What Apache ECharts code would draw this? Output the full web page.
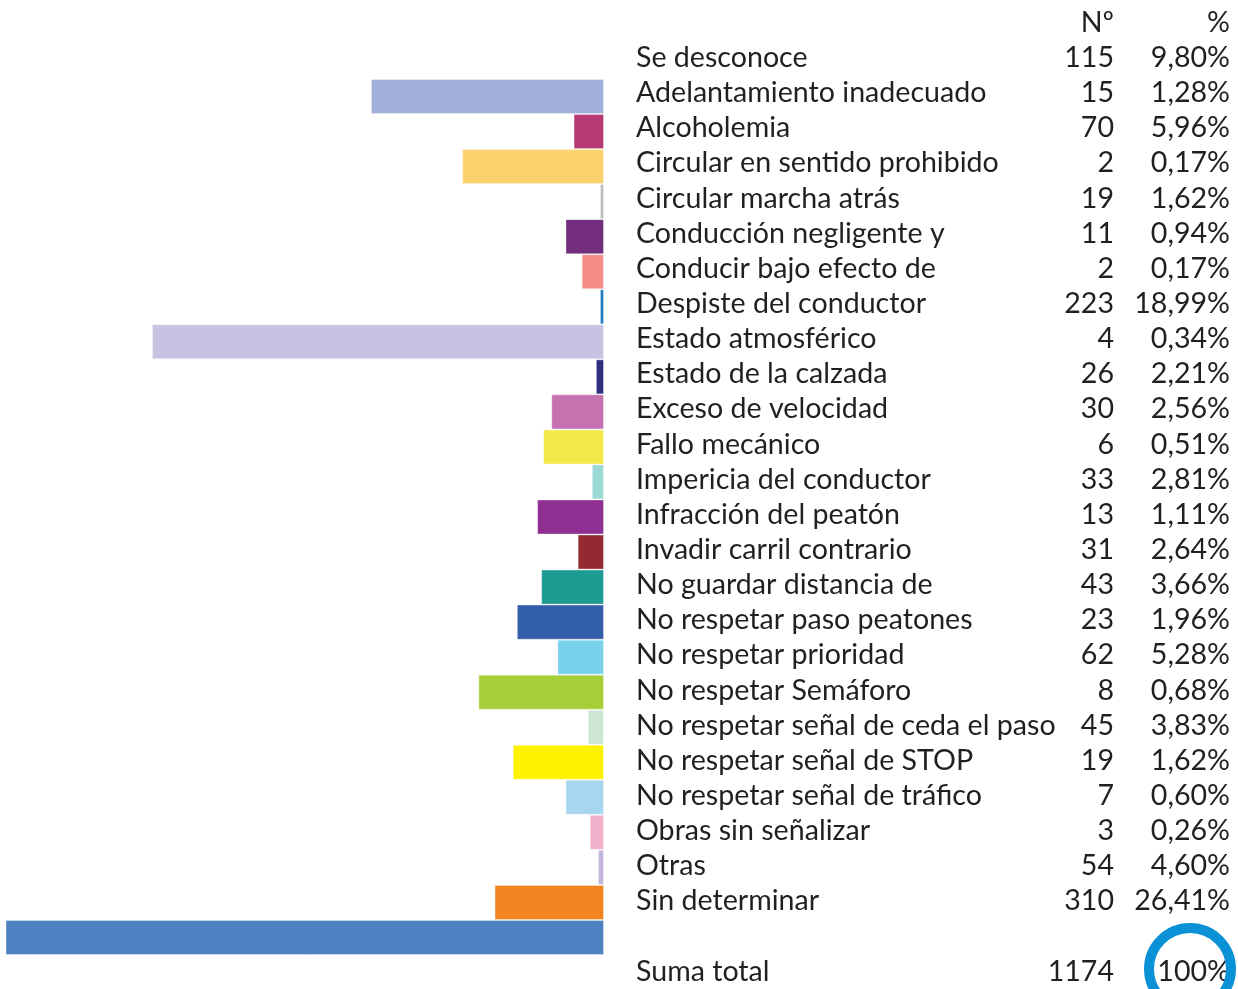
<!DOCTYPE html>
<html>
<head>
<meta charset="utf-8">
<script src="https://cdn.jsdelivr.net/npm/echarts@6/dist/echarts.min.js"></script>
<style>
  html, body { margin: 0; padding: 0; background: #fff; }
  #chart { width: 1238px; height: 989px; }
</style>
</head>
<body>
<div id="chart"></div>
<script>
// causas y valores
var causes = ['Se desconoce', 'Adelantamiento inadecuado', 'Alcoholemia', 'Circular en sentido prohibido',
  'Circular marcha atrás', 'Conducción negligente y', 'Conducir bajo efecto de', 'Despiste del conductor',
  'Estado atmosférico', 'Estado de la calzada', 'Exceso de velocidad', 'Fallo mecánico',
  'Impericia del conductor', 'Infracción del peatón', 'Invadir carril contrario', 'No guardar distancia de',
  'No respetar paso peatones', 'No respetar prioridad', 'No respetar Semáforo',
  'No respetar señal de ceda el paso', 'No respetar señal de STOP', 'No respetar señal de tráfico',
  'Obras sin señalizar', 'Otras', 'Sin determinar'];
var counts = [115, 15, 70, 2, 19, 11, 2, 223, 4, 26, 30, 6, 33, 13, 31, 43, 23, 62, 8, 45, 19, 7, 3, 54, 310];
var pcts = ['9,80%', '1,28%', '5,96%', '0,17%', '1,62%', '0,94%', '0,17%', '18,99%', '0,34%', '2,21%',
  '2,56%', '0,51%', '2,81%', '1,11%', '2,64%', '3,66%', '1,96%', '5,28%', '0,68%', '3,83%',
  '1,62%', '0,60%', '0,26%', '4,60%', '26,41%'];
var totalLabel = 'Suma total';
var totalCount = '1174';
var totalPct = '100%';
var headers = ['Nº', '%'];

var colors = ['#A1B0D9', '#B83873', '#FDD26E', '#BDBDBD', '#722D7C', '#F38B86', '#1F7CC1', '#C7C3E2',
  '#2B2F7F', '#C572B1', '#F3EA4A', '#9CD8D6', '#8E2F91', '#932A33', '#1D9A91', '#335EA9',
  '#79D2EC', '#A6CE39', '#CDE6D4', '#FFF200', '#A8D5EF', '#EEB1C9', '#C4B6DB', '#F38422', '#4E81C2'];

var textColor = '#231F20';
var fontFamily = 'Lato';
var fontSize = 28.6;

// filas de la tabla: cabecera, causas, hueco, total
var rows = [{ n: '', c: headers[0], p: headers[1] }];
for (var i = 0; i < causes.length; i++) {
  rows.push({ n: causes[i], c: String(counts[i]), p: pcts[i] });
}
rows.push({ n: '', c: '', p: '' });
rows.push({ n: totalLabel, c: totalCount, p: totalPct });

var barData = counts.map(function (v, i) {
  return { value: v, itemStyle: { color: colors[i], borderColor: 'rgba(255,255,255,0.35)', borderWidth: 1 } };
});

var myChart = echarts.init(document.getElementById('chart'));
var option = {
  backgroundColor: '#fff',
  animation: false,
  grid: [
    { left: 6, top: 79, width: 598, height: 876 },
    { left: 636, top: 5, width: 600, height: 985.6 }
  ],
  xAxis: [
    { gridIndex: 0, type: 'value', inverse: true, min: 0, max: 295, show: false },
    { gridIndex: 1, type: 'value', show: false }
  ],
  yAxis: [
    { gridIndex: 0, type: 'category', inverse: true, data: causes, show: false },
    {
      gridIndex: 1,
      type: 'category',
      inverse: true,
      data: rows.map(function (r, i) { return String(i); }),
      axisLine: { show: false },
      axisTick: { show: false },
      splitLine: { show: false },
      axisLabel: {
        inside: true,
        margin: 0,
        interval: 0,
        formatter: function (val) {
          var r = rows[+val];
          return '{n|' + r.n + '}{c|' + r.c + '}{p|' + r.p + '}';
        },
        rich: {
          n: { width: 430, align: 'left', fontSize: fontSize, fontFamily: fontFamily, color: textColor },
          c: { width: 48, align: 'right', fontSize: fontSize, fontFamily: fontFamily, color: textColor },
          p: { width: 116, align: 'right', fontSize: fontSize, fontFamily: fontFamily, color: textColor }
        }
      }
    }
  ],
  series: [
    {
      type: 'bar',
      xAxisIndex: 0,
      yAxisIndex: 0,
      data: barData,
      barCategoryGap: '0%',
      clip: true
    }
  ],
  graphic: [
    {
      type: 'circle',
      shape: { cx: 1190, cy: 969, r: 41 },
      style: { fill: 'none', stroke: '#0A91D6', lineWidth: 10 },
      z: 100
    }
  ]
};
myChart.setOption(option);
</script>
</body>
</html>
